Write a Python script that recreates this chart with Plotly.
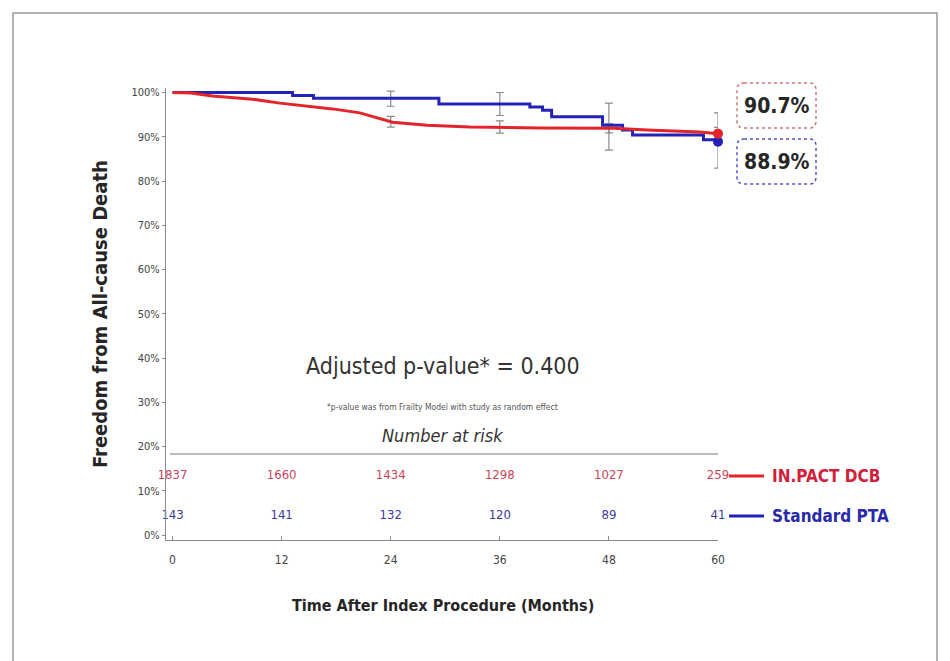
import plotly.graph_objects as go

# ---------------- data ----------------
dcb_time = [0, 2, 4.4, 8.8, 11.8, 16.2, 17.6, 20.6, 22.8, 24.2, 28, 32.7, 40.4, 48.5, 52.2, 58, 60]
dcb_surv = [100, 99.9, 99.2, 98.5, 97.6, 96.7, 96.3, 95.4, 94.2, 93.3, 92.6, 92.2, 92.0, 91.9, 91.5, 91.1, 90.7]

pta_time = [0, 13.2, 15.5, 29.3, 39.3, 40.7, 41.7, 47.3, 49.5, 50.6, 58.4, 59.8, 60]
pta_surv = [100, 99.3, 98.7, 97.4, 96.7, 96.0, 94.5, 92.6, 91.5, 90.4, 89.3, 88.9, 88.9]

ci_time = [24, 36, 48, 60]
dcb_ci_val = [93.3, 92.2, 91.9, 90.7]
dcb_ci_low = [92.2, 90.8, 90.9, 89.2]
dcb_ci_high = [94.6, 93.6, 93.0, 92.1]
pta_ci_val = [98.7, 97.4, 92.6, 88.9]
pta_ci_low = [96.9, 94.8, 87.0, 82.9]
pta_ci_high = [100.3, 100.0, 97.6, 95.4]

risk_months = [0, 12, 24, 36, 48, 60]
dcb_risk = [1837, 1660, 1434, 1298, 1027, 259]
pta_risk = [143, 141, 132, 120, 89, 41]

x_ticks = [0, 12, 24, 36, 48, 60]
y_ticks = list(range(0, 101, 10))
y_ticklabels = [f"{v}%" for v in y_ticks]

group_names = ["IN.PACT DCB", "Standard PTA"]
p_text = "Adjusted p-value* = 0.400"
foot_text = "*p-value was from Frailty Model with study as random effect"

# ---------------- style ----------------
RED = "#e3242b"
BLUE = "#2323b8"
RED_TXT = "#c8445c"
BLUE_TXT = "#3b3ba0"
GRAY = "#8a8a8a"
NARROW = "DejaVu Sans Condensed, Liberation Sans Narrow, Arial Narrow, sans-serif"

OFF = 8  # page body margin
W, H = 950, 661
L, R, T, B = 166, 718, 88, 540


def px(x):
    return (x - L) / (R - L)


def py(y):
    return (B - y) / (B - T)


def rounded_box(x0, y0, x1, y1, r=7):
    """SVG path in paper coords for a rounded rectangle given in pixels."""
    pts = [
        f"M {px(x0 + r)},{py(y0)}",
        f"L {px(x1 - r)},{py(y0)}",
        f"Q {px(x1)},{py(y0)} {px(x1)},{py(y0 + r)}",
        f"L {px(x1)},{py(y1 - r)}",
        f"Q {px(x1)},{py(y1)} {px(x1 - r)},{py(y1)}",
        f"L {px(x0 + r)},{py(y1)}",
        f"Q {px(x0)},{py(y1)} {px(x0)},{py(y1 - r)}",
        f"L {px(x0)},{py(y0 + r)}",
        f"Q {px(x0)},{py(y0)} {px(x0 + r)},{py(y0)}",
        "Z",
    ]
    return " ".join(pts)


fig = go.Figure()

# CI error bars
for vals, lo, hi in [(pta_ci_val, pta_ci_low, pta_ci_high), (dcb_ci_val, dcb_ci_low, dcb_ci_high)]:
    fig.add_trace(go.Scatter(
        x=ci_time, y=vals, mode="markers",
        marker=dict(size=1, color="rgba(0,0,0,0)"),
        error_y=dict(type="data", symmetric=False,
                     array=[h - v for h, v in zip(hi, vals)],
                     arrayminus=[v - l for v, l in zip(vals, lo)],
                     color=GRAY, thickness=1.2, width=4),
        showlegend=False, cliponaxis=False, hoverinfo="skip"))

# KM curves
fig.add_trace(go.Scatter(x=pta_time, y=pta_surv, mode="lines", line=dict(color=BLUE, width=3, shape="hv"),
                         name=group_names[1], showlegend=False, cliponaxis=False))
fig.add_trace(go.Scatter(x=dcb_time, y=dcb_surv, mode="lines", line=dict(color=RED, width=3),
                         name=group_names[0], showlegend=False, cliponaxis=False))

# end markers
fig.add_trace(go.Scatter(x=[pta_time[-1]], y=[pta_surv[-1]], mode="markers",
                         marker=dict(color=BLUE, size=10), showlegend=False, cliponaxis=False))
fig.add_trace(go.Scatter(x=[dcb_time[-1]], y=[dcb_surv[-1]], mode="markers",
                         marker=dict(color=RED, size=10), showlegend=False, cliponaxis=False))

# risk table
fig.add_trace(go.Scatter(x=risk_months, y=[13.3] * len(risk_months), mode="text",
                         text=[str(v) for v in dcb_risk],
                         textfont=dict(family=NARROW, size=13, color=RED_TXT),
                         showlegend=False, cliponaxis=False, hoverinfo="skip"))
fig.add_trace(go.Scatter(x=risk_months, y=[4.3] * len(risk_months), mode="text",
                         text=[str(v) for v in pta_risk],
                         textfont=dict(family=NARROW, size=13, color=BLUE_TXT),
                         showlegend=False, cliponaxis=False, hoverinfo="skip"))

shapes = []
annotations = []


def ann(**kw):
    kw.setdefault("showarrow", False)
    kw.setdefault("xanchor", "center")
    kw.setdefault("yanchor", "middle")
    annotations.append(kw)


# outer frame
shapes.append(dict(type="rect", xref="paper", yref="paper", x0=px(13), x1=px(937), y0=py(680), y1=py(13),
                   line=dict(color="#9a9a9a", width=1.5)))
# number at risk separator
shapes.append(dict(type="line", xref="x", yref="y", x0=-0.3, x1=60, y0=18.3, y1=18.3,
                   line=dict(color="#a0a8b0", width=1.5)))
# value boxes
shapes.append(dict(type="path", xref="paper", yref="paper", path=rounded_box(737, 83, 816, 128),
                   line=dict(color="#d07878", width=1.5, dash="dot")))
shapes.append(dict(type="path", xref="paper", yref="paper", path=rounded_box(737, 139, 816, 184),
                   line=dict(color="#5555c0", width=1.5, dash="dot")))
# legend lines
shapes.append(dict(type="line", xref="paper", yref="paper", x0=px(729), x1=px(764), y0=py(476), y1=py(476),
                   line=dict(color=RED, width=3)))
shapes.append(dict(type="line", xref="paper", yref="paper", x0=px(729), x1=px(764), y0=py(516), y1=py(516),
                   line=dict(color=BLUE, width=3)))

ann(xref="paper", yref="paper", x=px(776.5), y=py(105.5), text=f"<b>{dcb_surv[-1]:.1f}%</b>",
    font=dict(family=NARROW, size=21, color="#262626"))
ann(xref="paper", yref="paper", x=px(776.5), y=py(161.5), text=f"<b>{pta_surv[-1]:.1f}%</b>",
    font=dict(family=NARROW, size=21, color="#262626"))
ann(xref="paper", yref="paper", x=px(770), y=py(476), xanchor="left",
    text=f"<b>{group_names[0]}</b>", font=dict(family=NARROW, size=17, color="#d0203a"))
ann(xref="paper", yref="paper", x=px(770), y=py(516), xanchor="left",
    text=f"<b>{group_names[1]}</b>", font=dict(family=NARROW, size=17, color="#2a2aa8"))
ann(xref="x", yref="y", x=29.7, y=38.2, text=p_text,
    font=dict(family=NARROW, size=23, color="#333333"))
ann(xref="x", yref="y", x=29.7, y=28.9, text=foot_text,
    font=dict(family=NARROW, size=8.5, color="#555555"))
ann(xref="x", yref="y", x=29.7, y=22.4, text="<i>Number at risk</i>",
    font=dict(family=NARROW, size=18, color="#333333"))
# axis titles
ann(xref="paper", yref="paper", x=px(100), y=0.5, text="<b>Freedom from All-cause Death</b>",
    textangle=-90, font=dict(family=NARROW, size=20, color="#262626"))
ann(xref="paper", yref="paper", x=px(443), y=py(605), text="<b>Time After Index Procedure (Months)</b>",
    font=dict(family=NARROW, size=16, color="#262626"))

fig.update_layout(
    width=W - OFF, height=H - OFF,
    margin=dict(l=L - OFF, r=W - R, t=T - OFF, b=H - B, autoexpand=False),
    paper_bgcolor="white", plot_bgcolor="white",
    shapes=shapes, annotations=annotations,
    showlegend=False,
    xaxis=dict(range=[-0.72, 60], tickvals=x_ticks, ticktext=[str(v) for v in x_ticks],
               showgrid=False, zeroline=False, showline=True, linecolor=GRAY, linewidth=1.2,
               ticks="inside", ticklen=4, tickcolor=GRAY, ticklabelstandoff=8,
               tickfont=dict(family=NARROW, size=12, color="#444444"), fixedrange=True),
    yaxis=dict(range=[-1.13, 101.02], tickvals=y_ticks, ticktext=y_ticklabels,
               showgrid=False, zeroline=False, showline=True, linecolor=GRAY, linewidth=1.2,
               ticks="outside", ticklen=3, tickcolor=GRAY,
               tickfont=dict(family=NARROW, size=11, color="#444444"), fixedrange=True),
)

fig.write_html("out.html")
